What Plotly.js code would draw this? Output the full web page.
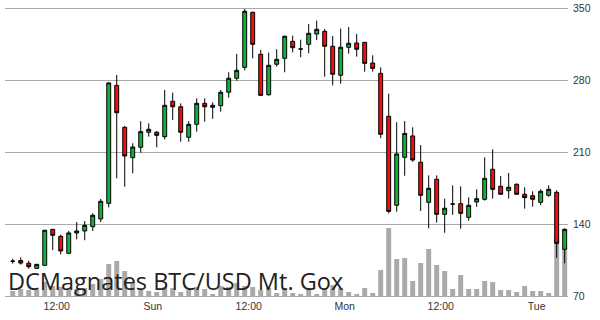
<!DOCTYPE html>
<html>
<head>
<meta charset="utf-8">
<script src="https://cdn.plot.ly/plotly-3.0.1.min.js"></script>
<style>
  html, body { margin: 0; padding: 0; background: #fff; }
  #chart { width: 600px; height: 320px; }
</style>
</head>
<body>
<div id="chart"></div>
<script>
// Hourly BTC/USD candles, Mt. Gox, first bar Sat 06:30
const firstBar = '2013-11-09T06:30:00Z';

const open = [
  103.8, 104.5, 101.8, 96.9, 99.8, 134.8, 128.0, 111.5, 131.3, 133.2,
  137.4, 144.9, 160.1, 274.8, 234.0, 204.5, 214.6, 229.2, 229.2, 224.9,
  259.3, 254.0, 224.3, 236.9, 257.3, 255.4, 255.0, 268.1, 281.7, 292.3,
  345.8, 305.0, 265.7, 295.3, 301.1, 317.6, 310.1, 314.7, 324.7, 327.3,
  312.8, 284.6, 311.8, 316.0, 316.6, 296.5, 286.5, 244.7, 158.2, 204.8,
  225.6, 200.0, 161.1, 183.5, 149.4, 159.4, 159.8, 146.5, 161.4, 164.0,
  193.2, 176.6, 172.4, 178.6, 168.9, 167.5, 161.1, 167.9, 170.8, 115.4
];
const high = [
  106.2, 107.5, 104.3, 101.0, 134.3, 135.2, 129.6, 133.2, 141.9, 142.9,
  150.4, 164.3, 278.1, 284.9, 235.3, 218.5, 239.9, 237.9, 230.4, 270.3,
  267.7, 257.3, 240.1, 262.2, 262.2, 258.3, 270.3, 287.5, 305.3, 349.0,
  346.5, 309.2, 306.6, 309.9, 323.1, 323.1, 319.2, 334.4, 337.7, 329.6,
  322.8, 330.0, 331.5, 324.7, 317.0, 304.0, 292.3, 266.7, 238.9, 240.1,
  234.0, 216.8, 187.3, 187.3, 164.6, 177.6, 176.6, 166.0, 173.7, 204.8,
  212.6, 186.7, 189.6, 179.6, 175.7, 171.8, 173.7, 177.6, 172.8, 135.8
];
const low = [
  101.4, 100.5, 96.5, 96.5, 99.5, 114.7, 110.5, 111.0, 125.1, 124.2,
  133.2, 141.9, 156.2, 184.4, 176.3, 189.3, 209.3, 224.9, 214.6, 222.3,
  241.1, 220.0, 220.0, 229.8, 239.5, 242.3, 249.2, 262.8, 279.3, 289.4,
  301.1, 264.5, 264.7, 293.0, 287.5, 306.9, 302.1, 306.0, 318.9, 283.2,
  274.8, 276.4, 305.6, 302.7, 288.1, 288.1, 223.4, 150.4, 152.0, 186.9,
  200.6, 152.6, 135.8, 141.3, 131.5, 148.8, 135.4, 143.2, 156.8, 162.7,
  164.6, 168.2, 164.6, 168.5, 154.9, 156.8, 158.2, 166.5, 107.2, 101.8
];
const close = [
  103.8, 102.0, 98.5, 100.8, 133.9, 129.0, 113.8, 131.3, 133.2, 138.7,
  148.5, 162.1, 277.1, 248.2, 206.1, 214.9, 229.8, 232.1, 226.2, 255.4,
  254.0, 229.2, 236.9, 257.3, 254.0, 253.5, 268.1, 281.7, 289.4, 346.8,
  314.7, 265.1, 294.3, 300.1, 322.5, 311.4, 310.1, 325.4, 329.3, 312.8,
  285.6, 311.8, 315.7, 309.9, 296.2, 291.3, 227.2, 152.3, 208.1, 228.1,
  202.2, 167.9, 174.7, 149.4, 155.3, 159.4, 150.4, 158.2, 164.6, 184.4,
  173.7, 168.9, 175.7, 168.9, 165.6, 164.0, 171.8, 173.7, 121.2, 134.8
];
// Traded volume per hour (BTC)
const volume = [
  250, 350, 300, 300, 700, 500, 450, 400, 350, 400,
  600, 850, 1600, 1750, 1250, 600, 400, 250, 200, 450,
  400, 200, 300, 450, 350, 100, 500, 450, 650, 500,
  450, 300, 400, 150, 400, 150, 100, 400, 100, 400,
  550, 400, 200, 100, 400, 150, 1300, 3400, 1850, 1900,
  750, 1650, 2350, 1550, 1250, 350, 1050, 350, 350, 750,
  700, 300, 300, 200, 500, 250, 250, 150, 2900, 2500
];

const tickTimes = [
  '2013-11-09T12:00:00Z', '2013-11-10T00:00:00Z', '2013-11-10T12:00:00Z',
  '2013-11-11T00:00:00Z', '2013-11-11T12:00:00Z', '2013-11-12T00:00:00Z'
];
const tickLabels = ['12:00', 'Sun', '12:00', 'Mon', '12:00', 'Tue'];
const priceTicks = [70, 140, 210, 280, 350];

// one timestamp per hourly bar
const t0 = Date.parse(firstBar);
const times = open.map((_, i) => new Date(t0 + i * 3600000).toISOString());

const GREEN = '#10b03a';
const RED = '#f20c0c';

const volumeTrace = {
  type: 'bar',
  x: times,
  y: volume,
  yaxis: 'y',
  marker: { color: '#aaaaaa', line: { width: 0 } },
  hoverinfo: 'skip'
};

const candleTrace = {
  type: 'candlestick',
  x: times,
  open: open,
  high: high,
  low: low,
  close: close,
  yaxis: 'y2',
  whiskerwidth: 0,
  increasing: { fillcolor: GREEN, line: { color: '#000', width: 1 } },
  decreasing: { fillcolor: RED, line: { color: '#000', width: 1 } },
  hoverinfo: 'skip'
};

const plotTop = 4, plotBottom = 24;
const plotH = 320 - plotTop - plotBottom;
const priceMax = 70 + plotH * 70 / 72;

const layout = {
  width: 600,
  height: 320,
  margin: { l: 5, r: 32, t: plotTop, b: plotBottom, pad: 0 },
  paper_bgcolor: '#fff',
  plot_bgcolor: '#fff',
  showlegend: false,
  bargap: 0.38,
  xaxis: {
    type: 'date',
    range: ['2013-11-09T05:32:00Z', '2013-11-12T03:55:00Z'],
    rangeslider: { visible: false },
    tickvals: tickTimes,
    ticktext: tickLabels,
    tickfont: { family: 'Liberation Sans, Arial, sans-serif', size: 10.5, color: '#333' },
    ticks: '',
    showgrid: false,
    showline: true,
    linecolor: '#aaaaaa',
    linewidth: 1,
    zeroline: false,
    fixedrange: true
  },
  yaxis: {
    range: [0, plotH * 50],
    visible: false,
    showgrid: false,
    zeroline: false,
    fixedrange: true
  },
  yaxis2: {
    overlaying: 'y',
    side: 'right',
    range: [70, priceMax],
    tickvals: priceTicks,
    ticktext: priceTicks.map(String),
    tickfont: { family: 'Liberation Sans, Arial, sans-serif', size: 10.5, color: '#333' },
    ticks: '',
    ticklabelstandoff: 4,
    showgrid: true,
    gridcolor: '#aaaaaa',
    gridwidth: 1,
    zeroline: false,
    showline: false,
    fixedrange: true
  },
  annotations: [{
    text: 'DCMagnates BTC/USD Mt. Gox',
    xref: 'paper', yref: 'paper',
    x: 0, y: 0,
    xanchor: 'left', yanchor: 'bottom',
    xshift: 1, yshift: -3,
    showarrow: false,
    font: { family: 'Open Sans, sans-serif', size: 23.5, color: '#222' }
  }]
};

Plotly.newPlot('chart', [volumeTrace, candleTrace], layout, { displayModeBar: false, staticPlot: true });
</script>
</body>
</html>
